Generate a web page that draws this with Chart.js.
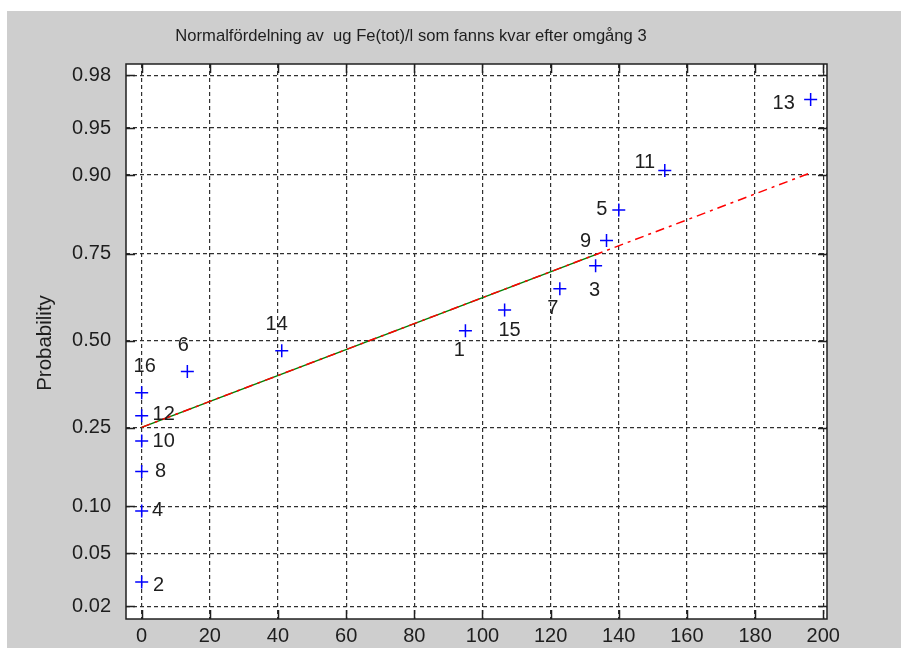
<!DOCTYPE html>
<html><head><meta charset="utf-8">
<script src="https://cdn.jsdelivr.net/npm/chart.js@4.4.1/dist/chart.umd.min.js"></script>
<style>html,body{margin:0;padding:0;background:#fff;overflow:hidden}#wrap{position:absolute;left:0;top:0;width:901px;height:648px}</style>
</head><body><div id="wrap"><canvas id="c" width="901" height="648"></canvas></div>
<script>
const titleText = 'Normalfördelning av  ug Fe(tot)/l som fanns kvar efter omgång 3';
const yAxisTitle = 'Probability';
const sampleIds = [2, 4, 8, 10, 12, 16, 6, 14, 1, 15, 7, 3, 9, 5, 11, 13];
const sampleValues = [0, 0, 0, 0, 0, 0, 13.4, 41.1, 95.0, 106.5, 122.7, 133.2, 136.4, 140.0, 153.5, 196.3];
const plotProbabilities = [0.031, 0.094, 0.156, 0.219, 0.281, 0.344, 0.406, 0.469, 0.531, 0.594, 0.656, 0.719, 0.781, 0.844, 0.906, 0.969];
const fitLineX = [0, 196.3];
const fitLineP = [0.2515, 0.903];
const quartileLineX = [0, 133.8];
const quartileLineP = [0.2515, 0.749];
const xTickValues = [0, 20, 40, 60, 80, 100, 120, 140, 160, 180, 200];
const yTickLabels = ['0.02', '0.05', '0.10', '0.25', '0.50', '0.75', '0.90', '0.95', '0.98'];

// inverse of the standard normal CDF (probability-paper axis transform)
function probit(p) {
  const a = [-3.969683028665376e+01, 2.209460984245205e+02, -2.759285104469687e+02, 1.383577518672690e+02, -3.066479806614716e+01, 2.506628277459239e+00];
  const b = [-5.447609879822406e+01, 1.615858368580409e+02, -1.556989798598866e+02, 6.680131188771972e+01, -1.328068155288572e+01];
  const c = [-7.784894002430293e-03, -3.223964580411365e-01, -2.400758277161838e+00, -2.549732539343734e+00, 4.374664141464968e+00, 2.938163982698783e+00];
  const d = [7.784695709041462e-03, 3.224671290700398e-01, 2.445134137142996e+00, 3.754408661907416e+00];
  const pl = 0.02425, ph = 1 - pl;
  let q, r;
  if (p < pl) { q = Math.sqrt(-2 * Math.log(p)); return (((((c[0]*q+c[1])*q+c[2])*q+c[3])*q+c[4])*q+c[5]) / ((((d[0]*q+d[1])*q+d[2])*q+d[3])*q+1); }
  if (p > ph) { q = Math.sqrt(-2 * Math.log(1 - p)); return -(((((c[0]*q+c[1])*q+c[2])*q+c[3])*q+c[4])*q+c[5]) / ((((d[0]*q+d[1])*q+d[2])*q+d[3])*q+1); }
  q = p - 0.5; r = q * q;
  return (((((a[0]*r+a[1])*r+a[2])*r+a[3])*r+a[4])*r+a[5])*q / (((((b[0]*r+b[1])*r+b[2])*r+b[3])*r+b[4])*r+1);
}

const FONT = '"Liberation Sans", Arial, sans-serif';
const TXT = '#1e1e1e';

const labelOffsets = {
  1: [-6, 20], 2: [17, 3], 3: [-1, 25], 4: [16, 0], 5: [-17, -1], 6: [-4, -26], 7: [-7, 20], 8: [19, 0],
  9: [-21, 1], 10: [22, 0], 11: [-20, -8], 12: [22, -1], 13: [-27, 4], 14: [-5, -26], 15: [5, 21], 16: [3, -26]
};

const framePlugin = {
  id: 'frame',
  beforeDraw(chart) {
    const ctx = chart.ctx;
    ctx.save();
    ctx.fillStyle = '#ffffff';
    ctx.fillRect(0, 0, chart.width, chart.height);
    ctx.fillStyle = '#cecece';
    ctx.fillRect(7, 11, chart.width - 7, chart.height - 11);
    const a = chart.chartArea;
    ctx.fillStyle = '#ffffff';
    ctx.fillRect(a.left, a.top, a.right - a.left, a.bottom - a.top);
    ctx.restore();
  },
  afterDatasetsDraw(chart) {
    const ctx = chart.ctx, a = chart.chartArea;
    const xs = chart.scales.x, ys = chart.scales.y;
    ctx.save();
    ctx.strokeStyle = '#202020';
    ctx.lineWidth = 1.5;
    ctx.setLineDash([]);
    ctx.strokeRect(a.left, a.top, a.right - a.left, a.bottom - a.top);
    const tl = 9;
    ctx.beginPath();
    xs.ticks.forEach(t => {
      const px = Math.round(xs.getPixelForValue(t.value)) + 0.5;
      ctx.moveTo(px, a.bottom); ctx.lineTo(px, a.bottom - tl);
      ctx.moveTo(px, a.top); ctx.lineTo(px, a.top + tl);
    });
    ys.ticks.forEach(t => {
      const py = Math.round(ys.getPixelForValue(t.value)) + 0.5;
      ctx.moveTo(a.left, py); ctx.lineTo(a.left + tl, py);
      ctx.moveTo(a.right, py); ctx.lineTo(a.right - tl, py);
    });
    ctx.stroke();
    ctx.restore();
  },
  afterDraw(chart) {
    const ctx = chart.ctx;
    ctx.save();
    ctx.fillStyle = TXT;
    ctx.textAlign = 'center';
    ctx.textBaseline = 'middle';
    ctx.font = '16.6px ' + FONT;
    ctx.fillText(titleText, 411, 36);
    ctx.save();
    ctx.translate(45, 343);
    ctx.rotate(-Math.PI / 2);
    ctx.font = '20.5px ' + FONT;
    ctx.fillText(yAxisTitle, 0, 0);
    ctx.restore();
    const meta = chart.getDatasetMeta(2);
    ctx.font = '20px ' + FONT;
    meta.data.forEach((el, i) => {
      const id = sampleIds[i];
      const off = labelOffsets[id] || [10, 0];
      ctx.fillText(String(id), el.x + off[0], el.y + off[1]);
    });
    ctx.restore();
  }
};

new Chart(document.getElementById('c'), {
  type: 'scatter',
  data: {
    datasets: [
      {
        label: 'quartiles',
        data: quartileLineX.map((x, i) => ({ x, y: probit(quartileLineP[i]) })),
        showLine: true, borderColor: '#008000', borderWidth: 1.5, pointRadius: 0, order: 3
      },
      {
        label: 'fit',
        data: fitLineX.map((x, i) => ({ x, y: probit(fitLineP[i]) })),
        showLine: true, borderColor: '#ff0000', borderWidth: 1.5, borderDash: [9, 5, 3, 5], pointRadius: 0, order: 2
      },
      {
        label: 'data',
        data: sampleValues.map((x, i) => ({ x, y: probit(plotProbabilities[i]) })),
        showLine: false, pointStyle: 'cross', pointRadius: 6.5, pointHoverRadius: 6.5,
        borderColor: '#0000ff', backgroundColor: '#0000ff', pointBorderWidth: 1.5, borderWidth: 1.5, order: 1
      }
    ]
  },
  options: {
    responsive: false,
    animation: false,
    devicePixelRatio: 1,
    layout: { padding: { left: 0, top: 64, right: 74, bottom: 0 } },
    plugins: { legend: { display: false }, title: { display: false }, tooltip: { enabled: false } },
    scales: {
      x: {
        type: 'linear', min: -4.6, max: 201.1,
        afterBuildTicks: s => { s.ticks = xTickValues.map(v => ({ value: v })); },
        afterFit: s => { s.height = 29; },
        ticks: { font: { family: FONT, size: 20 }, color: TXT, padding: 5, maxRotation: 0, autoSkip: false },
        grid: { color: '#303030', lineWidth: 1.2, drawTicks: false },
        border: { display: false, dash: [4, 3] }
      },
      y: {
        type: 'linear', min: -2.152, max: 2.14,
        afterBuildTicks: s => { s.ticks = yTickLabels.map(l => ({ value: probit(parseFloat(l)) })); },
        afterFit: s => { s.width = 126; },
        ticks: { font: { family: FONT, size: 20 }, color: TXT, padding: 15, autoSkip: false, callback: (v, i) => yTickLabels[i] },
        grid: { color: '#303030', lineWidth: 1.2, drawTicks: false },
        border: { display: false, dash: [4, 3] }
      }
    }
  },
  plugins: [framePlugin]
});
</script>
</body></html>
